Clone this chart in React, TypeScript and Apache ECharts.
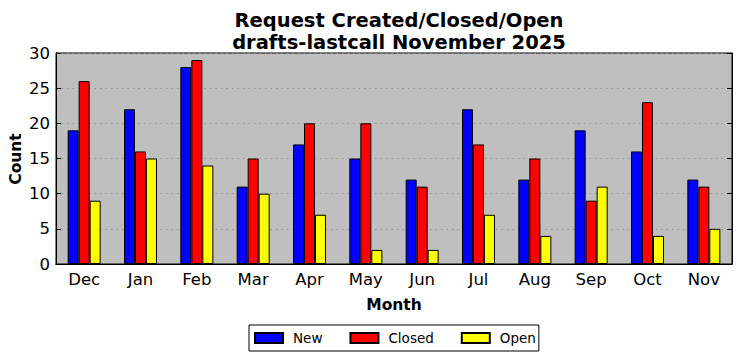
import React, { useEffect, useRef } from "react";
import * as echarts from "echarts";

const months = ["Dec", "Jan", "Feb", "Mar", "Apr", "May", "Jun", "Jul", "Aug", "Sep", "Oct", "Nov"];
const newValues = [19, 22, 28, 11, 17, 15, 12, 22, 12, 19, 16, 12];
const closedValues = [26, 16, 29, 15, 20, 20, 11, 17, 15, 9, 23, 11];
const openValues = [9, 15, 14, 10, 7, 2, 2, 7, 4, 11, 4, 5];
const yTicks = [0, 5, 10, 15, 20, 25, 30];

const FONT = "DejaVu Sans";

export default function App() {
  const ref = useRef<HTMLDivElement>(null);
  useEffect(() => {
    if (!ref.current) return;
    const chart = echarts.init(ref.current, null, { renderer: "svg" });
    const barStyle = (color: string) => ({ color, borderColor: "#000", borderWidth: 1 });
    chart.setOption({
      animation: false,
      textStyle: { fontFamily: FONT },
      title: {
        text: "Request Created/Closed/Open\ndrafts-lastcall November 2025",
        left: 394,
        textAlign: "center",
        top: 4,
        textStyle: { fontFamily: FONT, fontWeight: "bold", fontSize: 19.5, lineHeight: 22, color: "#000" },
      },
      legend: {
        bottom: 10,
        left: 249,
        itemWidth: 28,
        itemHeight: 10,
        itemGap: 27,
        padding: [6, 3, 6, 5],
        borderColor: "#000",
        borderWidth: 1,
        borderRadius: 0,
        icon: "rect",
        textStyle: { fontFamily: FONT, fontSize: 13.5, color: "#000", padding: [0, 0, 0, 5] },
        data: ["New", "Closed", "Open"],
      },
      graphic: [
        {
          type: "text",
          x: 16,
          y: 159,
          rotation: Math.PI / 2,
          style: {
            text: "Count",
            align: "center",
            verticalAlign: "middle",
            fontFamily: FONT,
            fontWeight: "bold",
            fontSize: 15.5,
            fill: "#000",
          },
        },
      ],
      grid: {
        left: 56,
        right: 10,
        top: 53,
        bottom: 97,
        outerBoundsMode: "none",
        containLabel: false,
        show: true,
        backgroundColor: "#bfbfbf",
        borderColor: "#000",
        borderWidth: 1,
      },
      xAxis: [
        {
          type: "category",
          data: months,
          name: "Month",
          nameLocation: "middle",
          nameGap: 33,
          nameTextStyle: { fontFamily: FONT, fontWeight: "bold", fontSize: 15.5, color: "#000" },
          axisLine: { lineStyle: { color: "#000" } },
          axisTick: { inside: true, alignWithLabel: true, length: 5, lineStyle: { color: "#000" } },
          axisLabel: { fontFamily: FONT, fontSize: 16.5, color: "#000", margin: 7 },
        },
        {
          type: "category",
          data: months,
          position: "top",
          axisLine: { lineStyle: { color: "#000" } },
          axisTick: { inside: true, alignWithLabel: true, length: 5, lineStyle: { color: "#000" } },
          axisLabel: { show: false },
        },
      ],
      yAxis: [
        {
          type: "value",
          min: 0,
          max: 30,
          interval: 5,
          axisLine: { show: true, lineStyle: { color: "#000" } },
          axisTick: { show: true, inside: true, length: 5, lineStyle: { color: "#000" } },
          axisLabel: {
            fontFamily: FONT,
            fontSize: 16.5,
            color: "#000",
            margin: 6,
            formatter: (v: number) => (yTicks.includes(v) ? String(v) : ""),
          },
          splitLine: { show: true, lineStyle: { color: "#909090", type: [1.5, 4], width: 1 } },
        },
        {
          type: "value",
          min: 0,
          max: 30,
          interval: 5,
          position: "right",
          axisLine: { show: true, lineStyle: { color: "#000" } },
          axisTick: { show: true, inside: true, length: 5, lineStyle: { color: "#000" } },
          axisLabel: { show: false },
          splitLine: { show: false },
        },
      ],
      series: [
        { name: "New", type: "bar", data: newValues, barWidth: 11, barGap: "0%", itemStyle: barStyle("#0000ff") },
        { name: "Closed", type: "bar", data: closedValues, barWidth: 11, barGap: "0%", itemStyle: barStyle("#ff0000") },
        { name: "Open", type: "bar", data: openValues, barWidth: 11, barGap: "0%", itemStyle: barStyle("#ffff00") },
      ],
    });
    return () => chart.dispose();
  }, []);
  return <div ref={ref} style={{ position: "absolute", left: 0, top: 0, width: 742, height: 361 }} />;
}
